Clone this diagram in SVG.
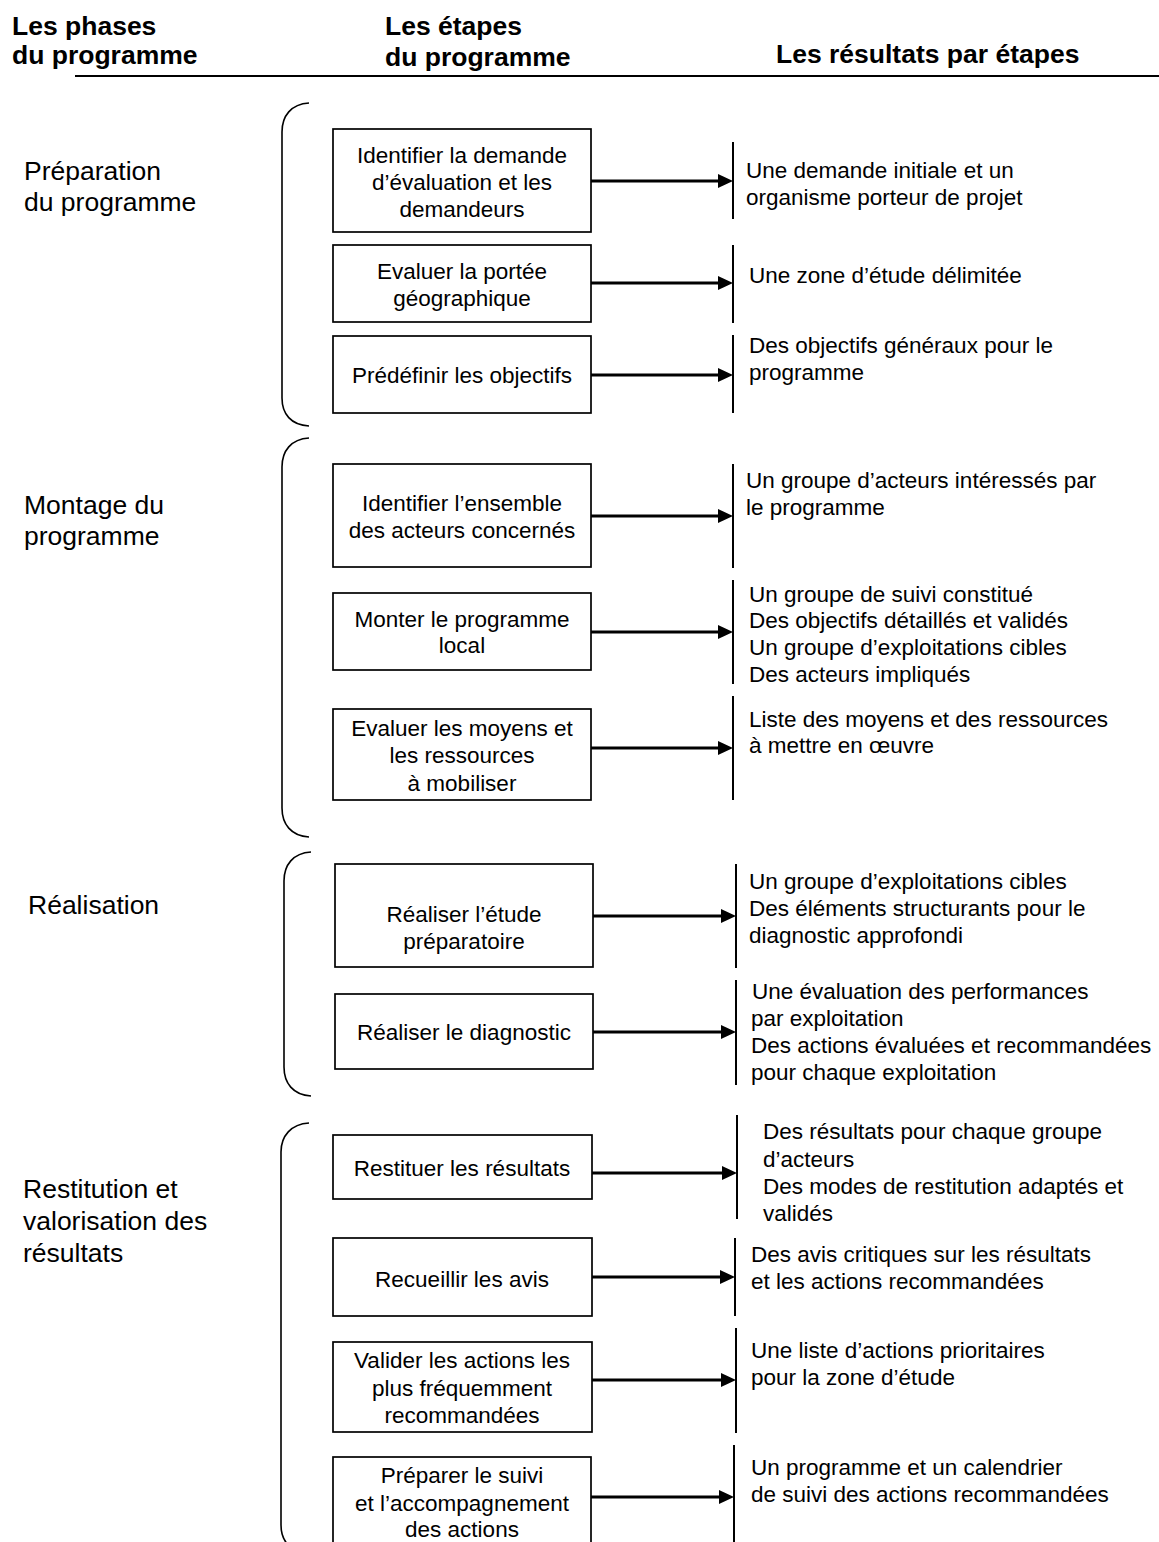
<svg xmlns="http://www.w3.org/2000/svg" width="1159" height="1542" viewBox="0 0 1159 1542">
<style>
text{font-family:"Liberation Sans",Arial,sans-serif;fill:#000}
.h{font-size:26.5px;font-weight:bold}
.ph{font-size:26.5px}
.t{font-size:22.5px}
.c{text-anchor:middle}
.box{fill:#fff;stroke:#000;stroke-width:1.7}
.brace{fill:none;stroke:#000;stroke-width:1.6}
.rl{stroke:#000;stroke-width:2}
.arr{stroke:#000;stroke-width:2.8;marker-end:url(#ah)}
</style>
<defs>
<marker id="ah" markerUnits="userSpaceOnUse" markerWidth="15" markerHeight="14" refX="4" refY="7" orient="auto">
<path d="M0,0 L15,7 L0,14 z" fill="#000"/>
</marker>
</defs>
<rect width="1159" height="1542" fill="#fff"/>

<g id="header">
<text class="h" x="12" y="35">Les phases</text>
<text class="h" x="12" y="64">du programme</text>
<text class="h" x="385" y="35">Les étapes</text>
<text class="h" x="385" y="66">du programme</text>
<text class="h" x="776" y="63">Les résultats par étapes</text>
<line x1="75" y1="76" x2="1159" y2="76" stroke="#000" stroke-width="2"/>
</g>

<g id="phases">
<g id="phase1">
<path class="brace" d="M309,103 C291,104 282,116 282,132 L282,398 C282,414 291,425 309,426"/>
<text class="ph" x="24" y="180">Préparation</text>
<text class="ph" x="24" y="211">du programme</text>
</g>
<g id="phase2">
<path class="brace" d="M309,438 C291,439 282,451 282,467 L282,808 C282,824 291,836 309,837"/>
<text class="ph" x="24" y="514">Montage du</text>
<text class="ph" x="24" y="545">programme</text>
</g>
<g id="phase3">
<path class="brace" d="M311,852 C293,853 284,865 284,881 L284,1067 C284,1083 293,1095 311,1096"/>
<text class="ph" x="28" y="914">Réalisation</text>
</g>
<g id="phase4">
<path class="brace" d="M309,1123 C291,1124 281,1136 281,1152 L281,1525 C281,1541 290,1552 309,1553"/>
<text class="ph" x="23" y="1198">Restitution et</text>
<text class="ph" x="23" y="1230">valorisation des</text>
<text class="ph" x="23" y="1262">résultats</text>
</g>
</g>

<g id="steps">
<g id="s1"><rect class="box" x="333" y="129" width="258" height="103"/>
<text class="t c" x="462" y="163">Identifier la demande</text>
<text class="t c" x="462" y="190">d’évaluation et les</text>
<text class="t c" x="462" y="217">demandeurs</text></g>
<g id="s2"><rect class="box" x="333" y="245" width="258" height="77"/>
<text class="t c" x="462" y="279">Evaluer la portée</text>
<text class="t c" x="462" y="306">géographique</text></g>
<g id="s3"><rect class="box" x="333" y="336" width="258" height="77"/>
<text class="t c" x="462" y="383">Prédéfinir les objectifs</text></g>
<g id="s4"><rect class="box" x="333" y="464" width="258" height="103"/>
<text class="t c" x="462" y="511">Identifier l’ensemble</text>
<text class="t c" x="462" y="538">des acteurs concernés</text></g>
<g id="s5"><rect class="box" x="333" y="593" width="258" height="77"/>
<text class="t c" x="462" y="627">Monter le programme</text>
<text class="t c" x="462" y="653">local</text></g>
<g id="s6"><rect class="box" x="333" y="709" width="258" height="91"/>
<text class="t c" x="462" y="736">Evaluer les moyens et</text>
<text class="t c" x="462" y="763">les ressources</text>
<text class="t c" x="462" y="791">à mobiliser</text></g>
<g id="s7"><rect class="box" x="335" y="864" width="258" height="103"/>
<text class="t c" x="464" y="922">Réaliser l’étude</text>
<text class="t c" x="464" y="949">préparatoire</text></g>
<g id="s8"><rect class="box" x="335" y="994" width="258" height="75"/>
<text class="t c" x="464" y="1040">Réaliser le diagnostic</text></g>
<g id="s9"><rect class="box" x="333" y="1135" width="259" height="64"/>
<text class="t c" x="462" y="1176">Restituer les résultats</text></g>
<g id="s10"><rect class="box" x="333" y="1238" width="259" height="78"/>
<text class="t c" x="462" y="1287">Recueillir les avis</text></g>
<g id="s11"><rect class="box" x="333" y="1342" width="259" height="90"/>
<text class="t c" x="462" y="1368">Valider les actions les</text>
<text class="t c" x="462" y="1396">plus fréquemment</text>
<text class="t c" x="462" y="1423">recommandées</text></g>
<g id="s12"><rect class="box" x="333" y="1457" width="258" height="100"/>
<text class="t c" x="462" y="1483">Préparer le suivi</text>
<text class="t c" x="462" y="1511">et l’accompagnement</text>
<text class="t c" x="462" y="1537">des actions</text></g>
</g>

<g id="results">
<g id="r1"><line class="rl" x1="733" y1="142" x2="733" y2="219"/>
<text class="t" x="746" y="178">Une demande initiale et un</text>
<text class="t" x="746" y="205">organisme porteur de projet</text></g>
<g id="r2"><line class="rl" x1="733" y1="245" x2="733" y2="323"/>
<text class="t" x="749" y="283">Une zone d’étude délimitée</text></g>
<g id="r3"><line class="rl" x1="733" y1="335" x2="733" y2="413"/>
<text class="t" x="749" y="353">Des objectifs généraux pour le</text>
<text class="t" x="749" y="380">programme</text></g>
<g id="r4"><line class="rl" x1="733" y1="464" x2="733" y2="568"/>
<text class="t" x="746" y="488">Un groupe d’acteurs intéressés par</text>
<text class="t" x="746" y="515">le programme</text></g>
<g id="r5"><line class="rl" x1="733" y1="580" x2="733" y2="684"/>
<text class="t" x="749" y="602">Un groupe de suivi constitué</text>
<text class="t" x="749" y="628">Des objectifs détaillés et validés</text>
<text class="t" x="749" y="655">Un groupe d’exploitations cibles</text>
<text class="t" x="749" y="682">Des acteurs impliqués</text></g>
<g id="r6"><line class="rl" x1="733" y1="696" x2="733" y2="800"/>
<text class="t" x="749" y="727">Liste des moyens et des ressources</text>
<text class="t" x="749" y="753">à mettre en œuvre</text></g>
<g id="r7"><line class="rl" x1="736" y1="864" x2="736" y2="968"/>
<text class="t" x="749" y="889">Un groupe d’exploitations cibles</text>
<text class="t" x="749" y="916">Des éléments structurants pour le</text>
<text class="t" x="749" y="943">diagnostic approfondi</text></g>
<g id="r8"><line class="rl" x1="736" y1="980" x2="736" y2="1085"/>
<text class="t" x="752" y="999">Une évaluation des performances</text>
<text class="t" x="751" y="1026">par exploitation</text>
<text class="t" x="751" y="1053">Des actions évaluées et recommandées</text>
<text class="t" x="751" y="1080">pour chaque exploitation</text></g>
<g id="r9"><line class="rl" x1="737" y1="1115" x2="737" y2="1219"/>
<text class="t" x="763" y="1139">Des résultats pour chaque groupe</text>
<text class="t" x="763" y="1167">d’acteurs</text>
<text class="t" x="763" y="1194">Des modes de restitution adaptés et</text>
<text class="t" x="763" y="1221">validés</text></g>
<g id="r10"><line class="rl" x1="735" y1="1238" x2="735" y2="1316"/>
<text class="t" x="751" y="1262">Des avis critiques sur les résultats</text>
<text class="t" x="751" y="1289">et les actions recommandées</text></g>
<g id="r11"><line class="rl" x1="736" y1="1328" x2="736" y2="1433"/>
<text class="t" x="751" y="1358">Une liste d’actions prioritaires</text>
<text class="t" x="751" y="1385">pour la zone d’étude</text></g>
<g id="r12"><line class="rl" x1="734" y1="1445" x2="734" y2="1542"/>
<text class="t" x="751" y="1475">Un programme et un calendrier</text>
<text class="t" x="751" y="1502">de suivi des actions recommandées</text></g>
</g>

<g id="connectors">
<line class="arr" x1="591" y1="181" x2="722" y2="181"/>
<line class="arr" x1="591" y1="283" x2="722" y2="283"/>
<line class="arr" x1="591" y1="375" x2="722" y2="375"/>
<line class="arr" x1="591" y1="516" x2="722" y2="516"/>
<line class="arr" x1="591" y1="632" x2="722" y2="632"/>
<line class="arr" x1="591" y1="748" x2="722" y2="748"/>
<line class="arr" x1="593" y1="916" x2="725" y2="916"/>
<line class="arr" x1="593" y1="1032" x2="725" y2="1032"/>
<line class="arr" x1="592" y1="1173" x2="726" y2="1173"/>
<line class="arr" x1="592" y1="1277" x2="724" y2="1277"/>
<line class="arr" x1="592" y1="1380" x2="725" y2="1380"/>
<line class="arr" x1="591" y1="1497" x2="723" y2="1497"/>
</g>
</svg>
